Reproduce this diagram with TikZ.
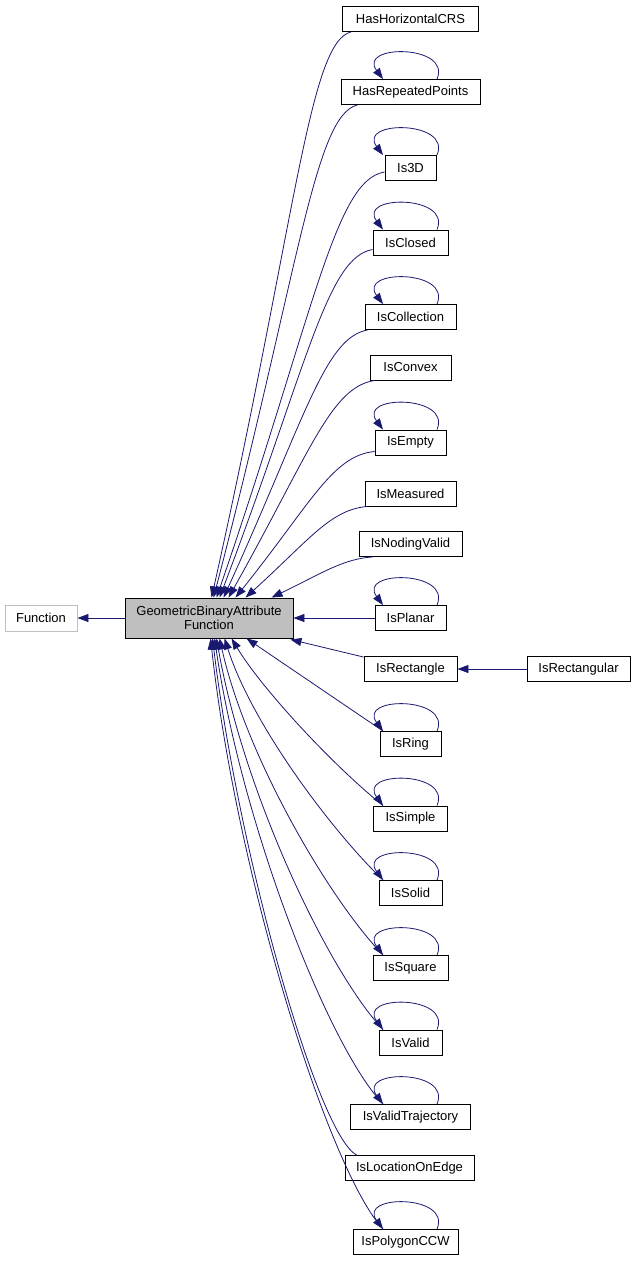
\documentclass[tikz,border=0pt]{standalone}
\usepackage{fontspec}
\setmainfont{Liberation Sans}
\usetikzlibrary{arrows.meta,calc}
\definecolor{edgeblue}{HTML}{191970}
\definecolor{mainfill}{HTML}{BFBFBF}
\definecolor{lightborder}{HTML}{BFBFBF}
\begin{document}
\begin{tikzpicture}[x=1pt,y=-1pt,
  box/.style={draw=black, line width=0.9pt, fill=white, inner sep=0pt, minimum height=25pt,
    font=\fontsize{13}{14.5}\selectfont, anchor=center},
  edge/.style={draw=edgeblue, line width=0.8pt, -{Triangle[length=11pt,width=8pt]}}]
\useasboundingbox (0,0) rectangle (636,1261);
\coordinate (lr) at (437,0);
\coordinate (ll) at (383,0);
% nodes
\node[box, draw=lightborder, minimum width=72pt, minimum height=26pt] (func) at (41,618) {Function};
\node[box, fill=mainfill, minimum width=168pt, minimum height=40pt, align=center] (g) at (209,618) {GeometricBinaryAttribute\\Function};
\node[box, minimum width=136pt] (hhc) at (410.5,19) {HasHorizontalCRS};
\node[box, minimum width=139pt] (hrp) at (410.5,92) {HasRepeatedPoints};
\node[box, minimum width=51pt] (is3d) at (410.5,168) {Is3D};
\node[box, minimum width=75pt] (iscl) at (410.5,242.5) {IsClosed};
\node[box, minimum width=91pt] (iscoll) at (410.5,317) {IsCollection};
\node[box, minimum width=81pt] (isconv) at (410.5,367.5) {IsConvex};
\node[box, minimum width=71pt] (isempty) at (410.5,442.5) {IsEmpty};
\node[box, minimum width=91pt] (ismeas) at (410.5,493.5) {IsMeasured};
\node[box, minimum width=103pt] (isnod) at (410.5,544) {IsNodingValid};
\node[box, minimum width=71pt] (isplanar) at (410.5,618) {IsPlanar};
\node[box, minimum width=93pt] (isrect) at (410.5,669) {IsRectangle};
\node[box, minimum width=103pt] (isrectu) at (578.5,669) {IsRectangular};
\node[box, minimum width=61pt] (isring) at (410.5,744) {IsRing};
\node[box, minimum width=74pt] (issimple) at (410.5,818.5) {IsSimple};
\node[box, minimum width=63pt] (issolid) at (410.5,893) {IsSolid};
\node[box, minimum width=75pt] (issquare) at (410.5,968) {IsSquare};
\node[box, minimum width=63pt] (isvalid) at (410.5,1042.5) {IsValid};
\node[box, minimum width=120pt] (isvt) at (410.5,1117) {IsValidTrajectory};
\node[box, minimum width=129pt] (isloc) at (409.5,1168) {IsLocationOnEdge};
\node[box, minimum width=105pt] (ispoly) at (405.5,1242) {IsPolygonCCW};
% edge to Function
\draw[edge] (g.west) -- (func.east);
% top edges
\draw[edge] ($(hhc.south west)+(9,0)$) .. controls +(-42,10) and +(85,-380) .. ($(g.north west)+(87,0)$);
\draw[edge] ($(hrp.south west)+(17,0)$) .. controls +(-43,10) and +(86,-330) .. ($(g.north west)+(89,0)$);
\draw[edge] ($(is3d.west)+(0,4)$) .. controls +(-50,8) and +(98,-285) .. ($(g.north west)+(92,0)$);
\draw[edge] ($(iscl.west)+(0,7)$) .. controls +(-46,8) and +(88,-232) .. ($(g.north west)+(95,0)$);
\draw[edge] ($(iscoll.south west)+(3,0)$) .. controls +(-43,8) and +(82,-180) .. ($(g.north west)+(99,0)$);
\draw[edge] ($(isconv.south west)+(5,0)$) .. controls +(-44,7) and +(82,-146) .. ($(g.north west)+(104,0)$);
\draw[edge] ($(isempty.west)+(0,9)$) .. controls +(-42,4) and +(76,-95) .. ($(g.north west)+(111,0)$);
\draw[edge] ($(ismeas.south west)+(3,0)$) .. controls +(-37,3) and +(64,-58) .. ($(g.north west)+(121,0)$);
\draw[edge] ($(isnod.south west)+(14,0)$) .. controls +(-30,2) and +(50,-24) .. ($(g.north west)+(147,0)$);
\draw[edge] (isplanar.west) -- (g.east);
\draw[edge] ($(isrect.north west)+(0,1)$) -- ($(g.south east)+(-3,1)$);
\draw[edge] (isrectu.west) -- (isrect.east);
% bottom edges
\draw[edge] (isring.north -| ll) -- ($(g.south west)+(122,0)$);
\draw[edge] (issimple.north -| ll) .. controls +(-50,-40) and +(30,50) .. ($(g.south west)+(107,0)$);
\draw[edge] (issolid.north -| ll) .. controls +(-52,-50) and +(27,85) .. ($(g.south west)+(100,0)$);
\draw[edge] (issquare.north -| ll) .. controls +(-53,-55) and +(27,120) .. ($(g.south west)+(95,0)$);
\draw[edge] (isvalid.north -| ll) .. controls +(-54,-57) and +(27,155) .. ($(g.south west)+(92,0)$);
\draw[edge] (isvt.north -| ll) .. controls +(-55,-58) and +(27,185) .. ($(g.south west)+(90,0)$);
\draw[edge] ($(isloc.north west)+(12,0)$) .. controls +(-40,-22) and +(25,210) .. ($(g.south west)+(88,0)$);
\draw[edge] (ispoly.north -| ll) .. controls +(-55,-60) and +(26,236) .. ($(g.south west)+(86,0)$);
% self loops
\foreach \n in {hrp,is3d,iscl,iscoll,isempty,isplanar,isring,issimple,issolid,issquare,isvalid,isvt,ispoly}{
  \draw[edge] (\n.north -| lr) .. controls +(15,-35) and +(-26,-35) .. (\n.north -| ll);
}
\end{tikzpicture}
\end{document}
